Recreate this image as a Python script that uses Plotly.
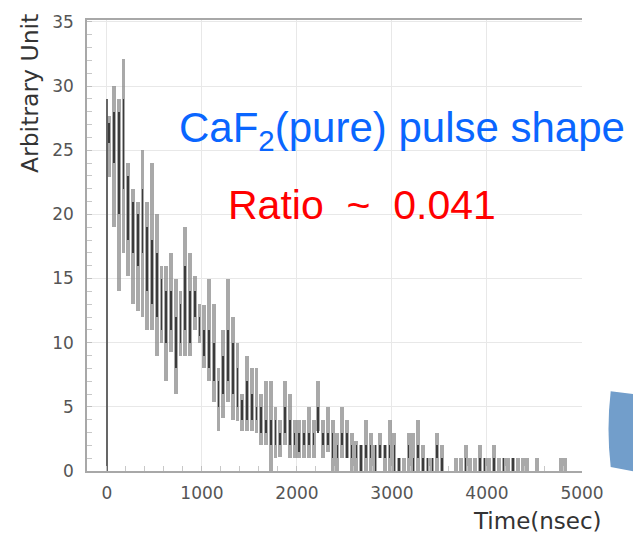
import plotly.graph_objects as go

# ---- data ----
time_ns = list(range(25, 4900, 50))          # bin centres, 50 ns bins
band_hi = [27.7, 30, 29, 32.1, 24, 22, 21, 25, 21, 24,
           20, 16, 16, 17, 15, 14, 19, 17, 15.2, 13,
           12.9, 15, 13, 8, 11, 15, 12, 10, 6, 9,
           8, 8, 6, 7, 7, 5, 4, 7, 6, 4,
           4, 4, 5, 4, 7, 4, 5, 4, 3, 5,
           4, 3, 2.3, 2, 4, 3, 2, 3, 2, 4,
           3, 1, 1, 3, 3, 4, 2, 1, 1, 3,
           2, 0, 0, 1, 1, 2, 1, 1, 2, 1,
           1, 2, 1, 1, 1, 1, 1, 1, 1, 0,
           1, 0, 0, 0, 0, 1, 1, 0]
band_lo = [22.9, 19, 14, 17, 15.2, 13, 12.5, 12, 11, 11,
           9, 10, 7, 9.3, 6, 9, 9, 9, 11, 10,
           8, 7, 5.4, 3.1, 4.1, 5.4, 4, 3.9, 3.1, 3.1,
           3.1, 3, 2, 2, 0, 1, 1.1, 2, 1, 1,
           1, 1, 1, 1, 3.1, 1, 1.5, 0, 0, 1,
           1, 0, 0, 0, 0, 0, 0, 1, 0, 0,
           0, 0, 0, 0, 0, 0, 0, 0, 0, 0,
           0, 0, 0, 0, 0, 0, 0, 0, 0, 0,
           0, 0, 0, 0, 0, 0, 0, 0, 0, 0,
           0, 0, 0, 0, 0, 0, 0, 0]
core_hi = [27.1, 28, 28, 29, 23, 21, 20, 22, 19, 18,
           17, 15, 14, 14, 12, 13, 16, 14, 14, 12,
           11, 11, 10, 7, 9, 11, 10, 8, 5.5, 7,
           6, 5, 5, 4, 4, 4, 3, 5, 4, 3,
           3, 3, 3, 3, 5, 3, 3, 3, 2, 3,
           3, 2, 2, 2, 2, 2, 2, 2, 2, 2,
           2, 1, 0, 2, 1, 2, 1, 1, 1, 2,
           1, 0, 0, 0, 0, 1, 0, 0, 1, 1,
           0, 1, 0, 1, 0, 1, 0, 0, 0, 0,
           0, 0, 0, 0, 0, 1, 0, 0]
core_lo = [25.6, 24, 20, 22, 18, 17, 16, 17, 14, 13,
           12, 11, 10, 11, 8, 10, 11, 10, 12, 10.5,
           9, 8, 7, 5, 6, 7, 6, 5, 4, 4,
           4, 4, 3, 3, 2, 2, 2, 3, 2, 2,
           1.5, 2, 2, 2, 3, 2, 2, 1, 1, 2,
           1, 1, 1, 0, 1, 1, 0, 1, 1, 1,
           0, 0, 0, 1, 0, 1, 0, 0, 0, 1,
           0, 0, 0, 0, 0, 0, 0, 0, 0, 0,
           0, 0, 0, 0, 0, 0, 0, 0, 0, 0,
           0, 0, 0, 0, 0, 1, 0, 0]
edge_time = [0]
edge_value = [29]

x_ticks = [0, 1000, 2000, 3000, 4000, 5000]
y_ticks = [0, 5, 10, 15, 20, 25, 30, 35]

fig = go.Figure()
fig.add_trace(go.Bar(x=time_ns, y=[h - l for h, l in zip(band_hi, band_lo)], base=band_lo,
                     width=40, marker=dict(color="rgba(140,140,140,0.75)", line=dict(width=0)),
                     showlegend=False, hoverinfo="skip"))
fig.add_trace(go.Bar(x=time_ns, y=[h - l for h, l in zip(core_hi, core_lo)], base=core_lo,
                     width=18, marker=dict(color="rgba(40,40,40,0.85)", line=dict(width=0)),
                     showlegend=False, hoverinfo="skip"))
fig.add_trace(go.Bar(x=edge_time, y=edge_value, width=14,
                     marker=dict(color="rgba(95,95,95,0.95)", line=dict(width=0)),
                     showlegend=False, hoverinfo="skip"))

tick_font = dict(family="DejaVu Sans", size=17, color="#555555")

fig.update_layout(
    width=633, height=537,
    margin=dict(l=87, r=51, t=13, b=66),
    paper_bgcolor="white", plot_bgcolor="white",
    barmode="overlay", bargap=0,
    font=dict(family="DejaVu Sans"),
    xaxis=dict(range=[-210, 5000], tickvals=x_ticks, ticktext=[str(v) for v in x_ticks],
               showgrid=True, gridcolor="#e8e8e8", gridwidth=1, zeroline=False,
               showline=True, linecolor="#a8a8a8", linewidth=1.5, mirror=True,
               ticks="inside", ticklen=5, tickcolor="#c0c0c0",
               minor=dict(dtick=200, ticks="inside", ticklen=5, tickcolor="#c8c8c8", showgrid=False),
               tickfont=tick_font, ticklabelstandoff=6, ticklabeloverflow="allow"),
    yaxis=dict(range=[0, 35.15], tickvals=y_ticks, ticktext=[str(v) for v in y_ticks],
               showgrid=True, gridcolor="#e8e8e8", gridwidth=1, zeroline=False,
               showline=True, linecolor="#a8a8a8", linewidth=1.5,
               ticks="inside", ticklen=5, tickcolor="#c0c0c0",
               minor=dict(dtick=1, ticks="inside", ticklen=5, tickcolor="#c8c8c8", showgrid=False),
               tickfont=tick_font, ticklabelstandoff=8, ticklabeloverflow="allow"),
)

fig.add_annotation(text="Arbitrary Unit", textangle=-90, xref="paper", yref="paper",
                   x=-0.115, y=0.836, xanchor="center", yanchor="middle", showarrow=False,
                   font=dict(family="DejaVu Sans", size=23.5, color="#333333"))
fig.add_annotation(text="Time(nsec)", xref="paper", yref="paper",
                   x=0.911, y=-0.111, xanchor="center", yanchor="middle", showarrow=False,
                   font=dict(family="DejaVu Sans", size=23, color="#333333"))
fig.add_annotation(text="CaF<sub>2</sub>(pure) pulse shape", xref="paper", yref="paper",
                   x=0.181, y=0.755, xanchor="left", yanchor="middle", showarrow=False,
                   font=dict(family="Liberation Sans", size=42, color="#0a66ff"))
fig.add_annotation(text="Ratio\u00a0 ~\u00a0 0.041", xref="paper", yref="paper",
                   x=0.280, y=0.590, xanchor="left", yanchor="middle", showarrow=False,
                   font=dict(family="Liberation Sans", size=41, color="#ff0000"))

# decorative blue shape at the bottom right edge
fig.add_shape(type="path", xref="paper", yref="paper",
              path="M 1.058,0.177 L 1.12,0.168 L 1.12,-0.004 L 1.058,0.009 Q 1.049,0.093 1.058,0.177 Z",
              fillcolor="#729ecb", line=dict(width=0), layer="above")

# remove the browser's default page margin so the 633x537 figure fills the window
fig.write_html("out.html", config={"displayModeBar": False},
               post_script="document.body.style.margin='0';")
